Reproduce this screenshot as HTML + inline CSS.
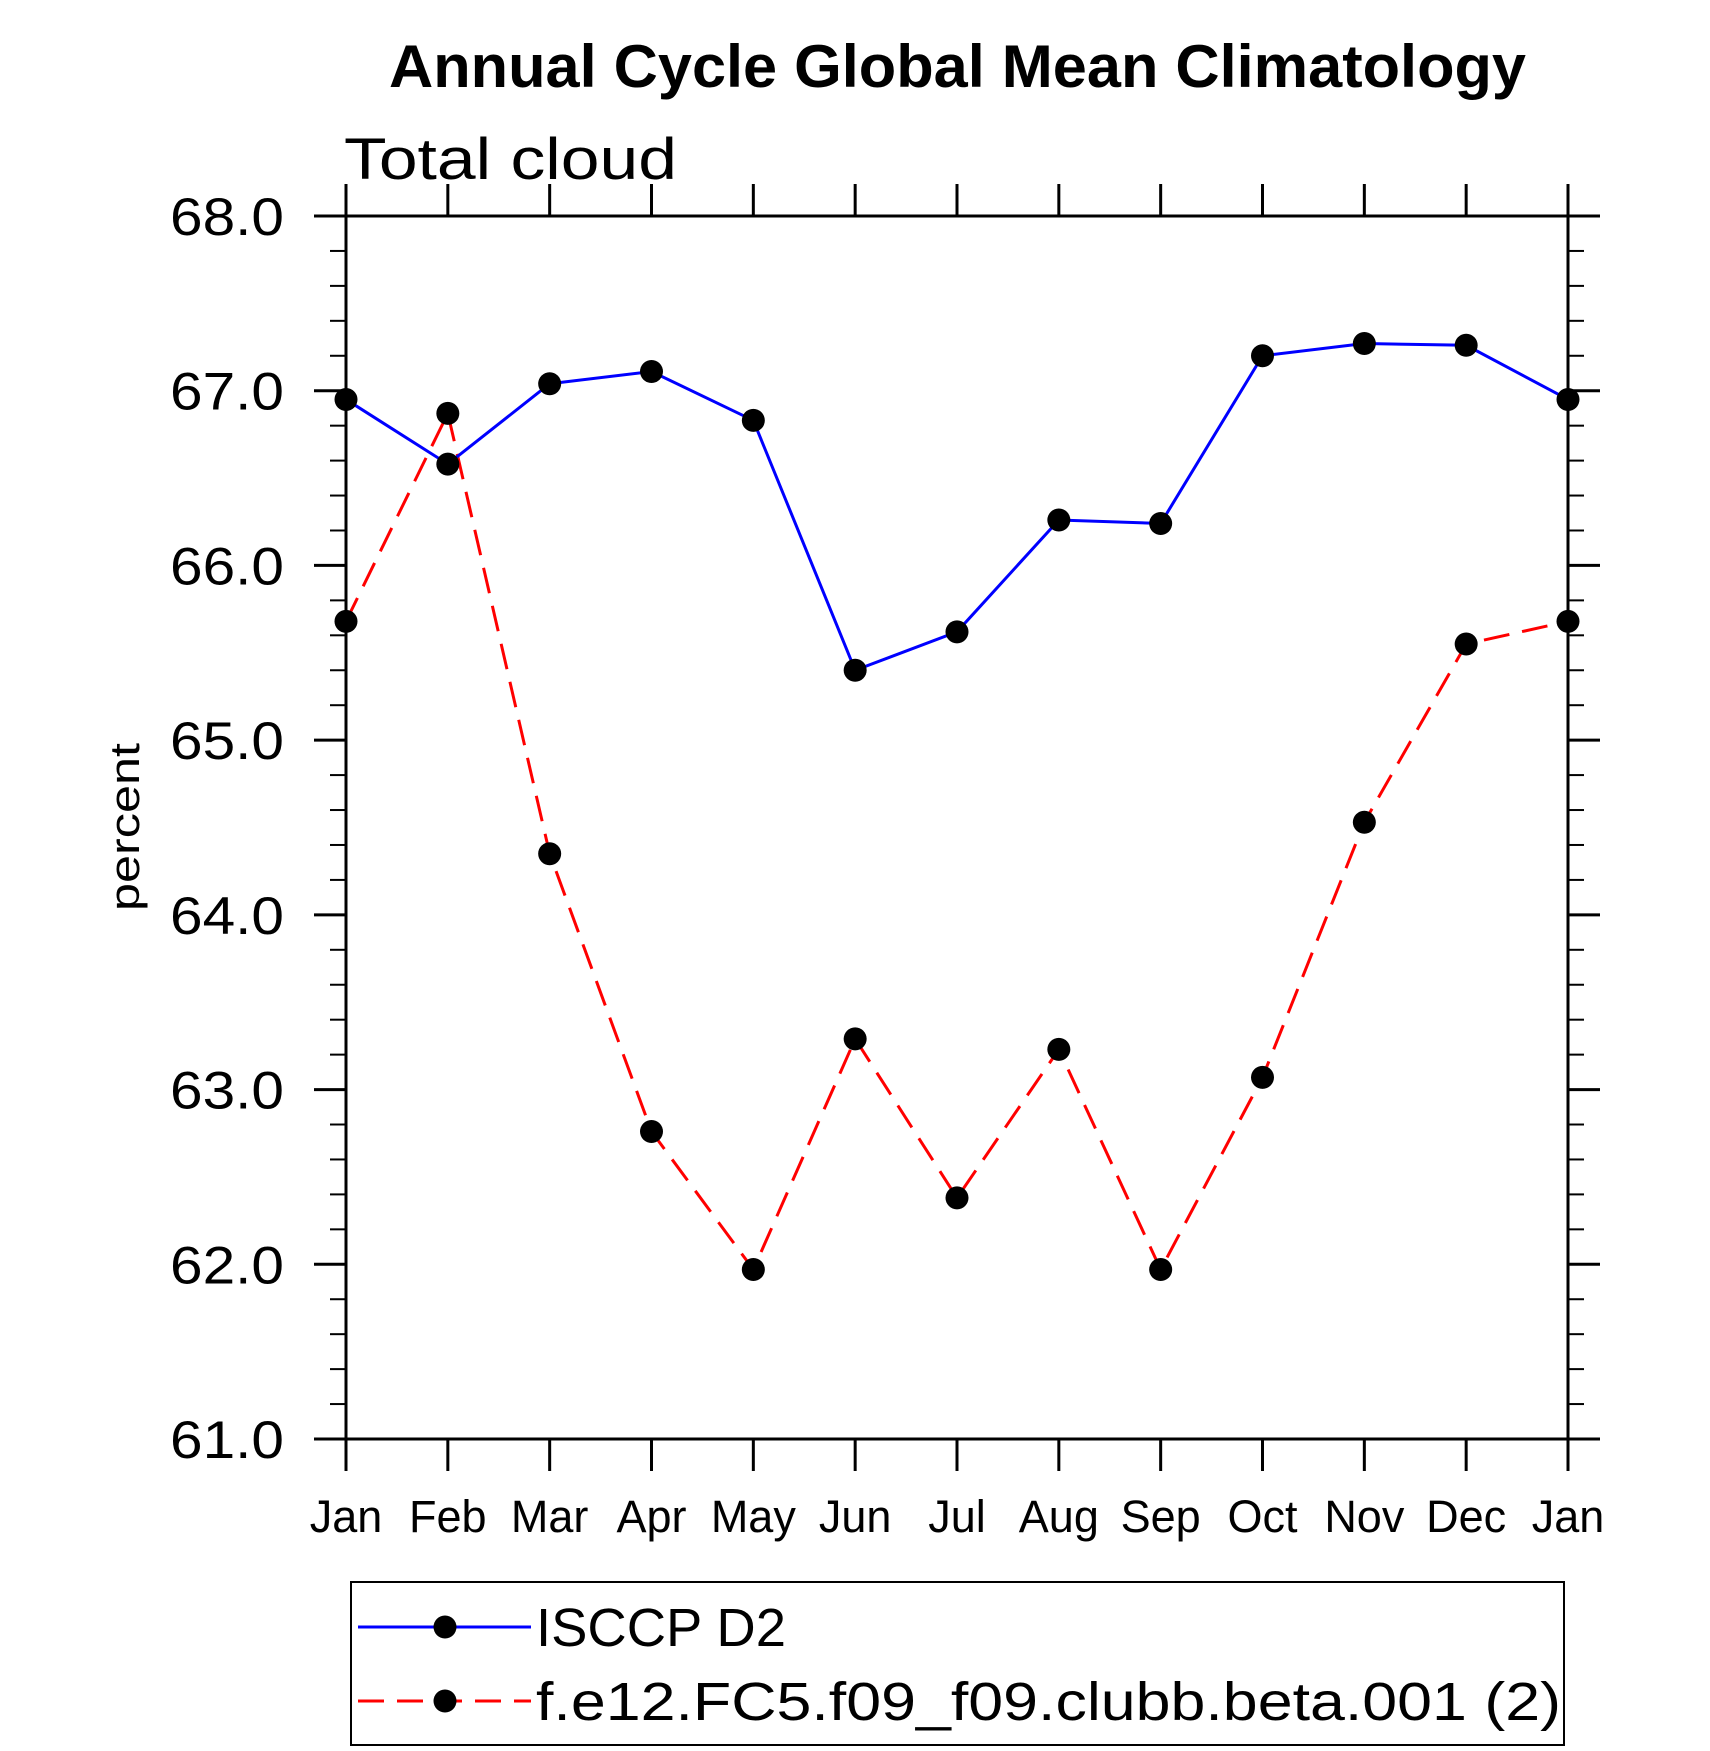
<!DOCTYPE html>
<html><head><meta charset="utf-8"><style>
html,body{margin:0;padding:0;background:#fff}
svg{display:block}
text{font-family:"Liberation Sans",sans-serif}
</style></head><body>
<svg id="chart" width="1710" height="1751" viewBox="0 0 1710 1751" xmlns="http://www.w3.org/2000/svg">
<text x="389" y="87" font-size="60" font-weight="bold" textLength="1137" lengthAdjust="spacingAndGlyphs">Annual Cycle Global Mean Climatology</text>
<text x="344" y="179" font-size="58" textLength="333" lengthAdjust="spacingAndGlyphs">Total cloud</text>
<text transform="translate(139,827) rotate(-90)" text-anchor="middle" font-size="42" textLength="168" lengthAdjust="spacingAndGlyphs">percent</text>
<g id="axes"></g>
<g id="series"></g>
<g>
<rect x="351" y="1582" width="1213" height="163" fill="none" stroke="#000" stroke-width="2"/>
<g>
<line x1="358" y1="1627" x2="531" y2="1627" stroke="#0000ff" stroke-width="3"/>
<circle cx="445" cy="1627" r="11.5" fill="#000"/>
<text x="536" y="1646" font-size="54" textLength="250" lengthAdjust="spacingAndGlyphs">ISCCP D2</text>
</g>
<g>
<line x1="358" y1="1701" x2="531" y2="1701" stroke="#ff0000" stroke-width="3" stroke-dasharray="26,13"/>
<circle cx="445" cy="1701" r="11.5" fill="#000"/>
<text x="536" y="1720" font-size="54" textLength="1025" lengthAdjust="spacingAndGlyphs">f.e12.FC5.f09_f09.clubb.beta.001 (2)</text>
</g>
</g>
</svg>
<script>
const months = ["Jan","Feb","Mar","Apr","May","Jun","Jul","Aug","Sep","Oct","Nov","Dec","Jan"];
const isccp = [66.95,66.58,67.04,67.11,66.83,65.40,65.62,66.26,66.24,67.20,67.27,67.26,66.95];
const model = [65.68,66.87,64.35,62.76,61.97,63.29,62.38,63.23,61.97,63.07,64.53,65.55,65.68];
const yTicks = ["61.0","62.0","63.0","64.0","65.0","66.0","67.0","68.0"];
const yMin = 61, yMax = 68;
const L=346, R=1568, T=216, B=1439;
const NS="http://www.w3.org/2000/svg";
const xs = i => L + (R-L)*i/(months.length-1);
const ys = v => B - (B-T)*(v-yMin)/(yMax-yMin);
function mk(tag, attrs, parent){const e=document.createElementNS(NS,tag);for(const k in attrs)e.setAttribute(k,attrs[k]);parent.appendChild(e);return e;}
const ax=document.getElementById('axes');
const frame=mk('rect',{x:L,y:T,width:R-L,height:B-T,fill:'none',stroke:'#000','stroke-width':3},ax);


months.forEach((m,i)=>{
  const x=xs(i);
  mk('line',{x1:x,y1:B,x2:x,y2:B+32,stroke:'#000','stroke-width':3},ax);
  mk('line',{x1:x,y1:T,x2:x,y2:T-32,stroke:'#000','stroke-width':3},ax);
  const t=mk('text',{x:x,y:1532,'text-anchor':'middle','font-size':45},ax);
  t.textContent=m;
  
  
});
for(let v=yMin; v<=yMax+1e-9; v+=0.2){
  const y=ys(v); const major=Math.abs(v-Math.round(v))<1e-6;
  const len=major?32:16;
  mk('line',{x1:L-len,y1:y,x2:L,y2:y,stroke:'#000','stroke-width':major?3:2},ax);
  mk('line',{x1:R,y1:y,x2:R+len,y2:y,stroke:'#000','stroke-width':major?3:2},ax);
}
yTicks.forEach(s=>{
  const t=mk('text',{x:170,y:ys(parseFloat(s))+19,'font-size':53,textLength:114,lengthAdjust:'spacingAndGlyphs'},ax);
  t.textContent=s;
  
  
});
const sg=document.getElementById('series');
function drawSeries(vals,color,dash,name){
  const p=mk('polyline',{points:vals.map((v,i)=>xs(i)+','+ys(v)).join(' '),fill:'none',stroke:color,'stroke-width':3},sg);
  if(dash)p.setAttribute('stroke-dasharray',dash);
  
  
  vals.forEach((v,i)=>{
    const c=mk('circle',{cx:xs(i),cy:ys(v),r:11.5,fill:'#000'},sg);
    
    
  });
}
drawSeries(model,'#ff0000','26,13','model');
drawSeries(isccp,'#0000ff',null,'isccp');
</script>
</body></html>
